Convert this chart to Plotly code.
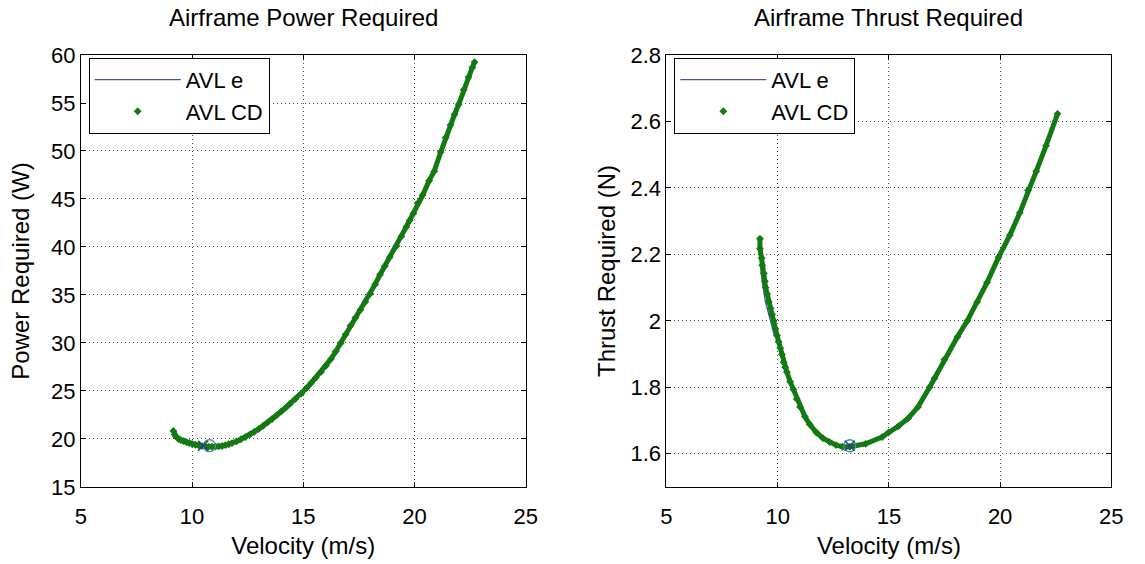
import plotly.graph_objects as go

# ---------------- data ----------------
# Power required (left panel), "AVL CD" markers
cd_power_velocity = [9.16, 9.22, 9.30, 9.40, 9.50, 9.62, 9.75, 9.87, 10.0, 10.15, 10.3, 10.45,
                     10.6, 10.75, 10.9, 11.05, 11.2, 11.35, 11.5, 11.65, 11.8, 12.0, 12.2, 12.4,
                     12.6, 12.8, 13.0, 13.2, 13.4, 13.6, 13.8, 14.0, 14.2, 14.4, 14.65, 14.91,
                     15.15, 15.35, 15.57, 15.80, 16.02, 16.24, 16.46, 16.68, 16.9, 17.12, 17.34,
                     17.57, 17.79, 18.01, 18.23, 18.45, 18.67, 18.89, 19.19, 19.41, 19.63, 19.78,
                     19.95, 20.15, 20.37, 20.66, 20.89, 21.18, 21.40, 21.62, 21.80, 21.99, 22.21,
                     22.43, 22.60, 22.70]
cd_power = [20.84, 20.45, 20.2, 20.0, 19.88, 19.78, 19.68, 19.58, 19.5, 19.4, 19.32, 19.26,
            19.22, 19.2, 19.2, 19.2, 19.22, 19.27, 19.35, 19.45, 19.57, 19.75, 19.97, 20.2,
            20.47, 20.75, 21.05, 21.38, 21.72, 22.08, 22.45, 22.84, 23.24, 23.65, 24.18, 24.73,
            25.3, 25.82, 26.4, 26.99, 27.63, 28.31, 29.12, 29.97, 30.88, 31.80, 32.62,
            33.46, 34.28, 35.12, 36.1, 37.11, 38.0, 38.94, 40.10, 41.1, 42.09, 42.76,
            43.5, 44.58, 45.41, 46.91, 47.90, 49.89, 51.39, 52.72, 53.8, 54.87, 56.37,
            57.70, 58.7, 59.26]

# Power required, "AVL e" line
e_power_velocity = [9.22] + cd_power_velocity[3:]
e_power = [20.2] + cd_power[3:]

# Thrust required (right panel), "AVL CD" markers
cd_thrust_velocity = [9.204, 9.204, 9.277, 9.307, 9.381, 9.425, 9.454, 9.528, 9.602, 9.676,
                      9.749, 9.823, 9.897, 9.970, 10.044, 10.118, 10.192, 10.265, 10.339,
                      10.413, 10.561, 10.708, 10.855, 11.003, 11.224, 11.445, 11.740, 12.035,
                      12.330, 12.625, 12.920, 13.245, 13.953, 14.69, 14.985, 15.428, 15.870,
                      16.313, 16.829, 17.05, 17.493, 18.083, 18.525, 18.968, 19.410, 19.926,
                      20.442, 20.885, 21.254, 21.623, 22.065, 22.581]
cd_thrust = [2.247, 2.217, 2.189, 2.167, 2.143, 2.119, 2.100, 2.081, 2.057, 2.038,
             2.019, 2.000, 1.976, 1.956, 1.937, 1.918, 1.899, 1.875, 1.860,
             1.846, 1.817, 1.793, 1.765, 1.741, 1.712, 1.688, 1.664, 1.647,
             1.635, 1.626, 1.621, 1.621, 1.630, 1.650, 1.664, 1.683, 1.707,
             1.741, 1.800, 1.827, 1.884, 1.952, 2.000, 2.057, 2.115, 2.191,
             2.258, 2.325, 2.393, 2.450, 2.527, 2.623]

# Thrust required, "AVL e" line (runs just left of the markers at low speed)
e_thrust_velocity = [9.20, 9.22, 9.26, 9.31, 9.35, 9.38, 9.45, 9.53, 9.60, 9.68, 9.77, 9.85] + cd_thrust_velocity[14:]
e_thrust = [2.196, 2.167, 2.143, 2.119, 2.100, 2.081, 2.057, 2.038, 2.019, 2.000, 1.976, 1.956] + cd_thrust[14:]

# minimum-point markers
min_power_circle = ([10.78], [19.3])
min_power_x = ([10.5], [19.3])
min_thrust_circle = ([13.24], [1.624])
min_thrust_x = ([13.24], [1.624])

x_ticks = [5, 10, 15, 20, 25]
power_ticks = [15, 20, 25, 30, 35, 40, 45, 50, 55, 60]
thrust_ticks = [1.6, 1.8, 2.0, 2.2, 2.4, 2.6, 2.8]

# ---------------- styling ----------------
W, H = 1145, 564
FONT = "Liberation Sans, Arial, sans-serif"
GREEN = "#137a13"
BLUE = "#4b4bb0"
CIRC = "#4f86a8"
XCOL = "#23427a"

fig = go.Figure()

def add_panel(xa, ya, ev, ey, cv, cy, circ, xm, legend):
    fig.add_trace(go.Scatter(x=ev, y=ey, mode="lines", name="AVL e",
                             line=dict(color=BLUE, width=1.3),
                             xaxis=xa, yaxis=ya, legend=legend))
    # dense marker band (thick line under markers)
    fig.add_trace(go.Scatter(x=cv, y=cy, mode="lines", showlegend=False,
                             line=dict(color=GREEN, width=5),
                             xaxis=xa, yaxis=ya, hoverinfo="skip"))
    fig.add_trace(go.Scatter(x=cv, y=cy, mode="markers", name="AVL CD",
                             marker=dict(color=GREEN, size=6, symbol="diamond"),
                             xaxis=xa, yaxis=ya, legend=legend))
    fig.add_trace(go.Scatter(x=circ[0], y=circ[1], mode="markers", showlegend=False,
                             marker=dict(symbol="circle-open", size=12, color=CIRC,
                                         line=dict(color=CIRC, width=1.3)),
                             xaxis=xa, yaxis=ya))
    fig.add_trace(go.Scatter(x=xm[0], y=xm[1], mode="markers", showlegend=False,
                             marker=dict(symbol="x-thin-open", size=10, color=XCOL,
                                         line=dict(color=XCOL, width=1.5)),
                             xaxis=xa, yaxis=ya))

add_panel("x", "y", e_power_velocity, e_power, cd_power_velocity, cd_power,
          min_power_circle, min_power_x, "legend")
add_panel("x2", "y2", e_thrust_velocity, e_thrust, cd_thrust_velocity, cd_thrust,
          min_thrust_circle, min_thrust_x, "legend2")

L1, R1 = 76 / W, 528 / W
L2, R2 = 671 / W, 1123 / W
B, T = 1 - 497 / H, 1 - 45 / H

axis_common = dict(showline=True, linecolor="black", linewidth=1, mirror="ticks",
                   ticks="inside", ticklen=5, tickcolor="black",
                   showgrid=True, gridcolor="rgba(0,0,0,0.7)", griddash="1px,3px",
                   gridwidth=1, zeroline=False,
                   tickfont=dict(family=FONT, size=22, color="black"))

legend_common = dict(bgcolor="white", bordercolor="black", borderwidth=1,
                     font=dict(family=FONT, size=22, color="black"),
                     xanchor="left", yanchor="top", itemwidth=86,
                     tracegroupgap=0)

TITLE_FONT = dict(family=FONT, size=24, color="black")

fig.update_layout(
    width=W, height=H, margin=dict(l=0, r=0, t=0, b=0),
    paper_bgcolor="white", plot_bgcolor="white",
    font=dict(family=FONT, size=22, color="black"),
    xaxis=dict(domain=[L1, R1], range=[5, 25], tickvals=x_ticks, anchor="y",
               ticklabelstandoff=10,
               title=dict(text="Velocity (m/s)", standoff=8, font=TITLE_FONT),
               **axis_common),
    yaxis=dict(domain=[B, T], range=[15, 60], tickvals=power_ticks, anchor="x",
               title=dict(text="Power Required (W)", standoff=14, font=TITLE_FONT),
               **axis_common),
    xaxis2=dict(domain=[L2, R2], range=[5, 25], tickvals=x_ticks, anchor="y2",
                ticklabelstandoff=10,
                title=dict(text="Velocity (m/s)", standoff=8, font=TITLE_FONT),
                **axis_common),
    yaxis2=dict(domain=[B, T], range=[1.5, 2.8], tickvals=thrust_ticks, anchor="x2",
                title=dict(text="Thrust Required (N)", standoff=8, font=TITLE_FONT),
                **axis_common),
    legend=dict(x=84 / W, y=1 - 48 / H, **legend_common),
    legend2=dict(x=679 / W, y=1 - 48 / H, **legend_common),
    showlegend=True,
    annotations=[
        dict(text="Airframe Power Required", x=(L1 + R1) / 2, y=1 - 6 / H,
             xref="paper", yref="paper", showarrow=False,
             xanchor="center", yanchor="middle", font=TITLE_FONT),
        dict(text="Airframe Thrust Required", x=(L2 + R2) / 2, y=1 - 6 / H,
             xref="paper", yref="paper", showarrow=False,
             xanchor="center", yanchor="middle", font=TITLE_FONT),
    ],
)

fig.write_html("out.html")
